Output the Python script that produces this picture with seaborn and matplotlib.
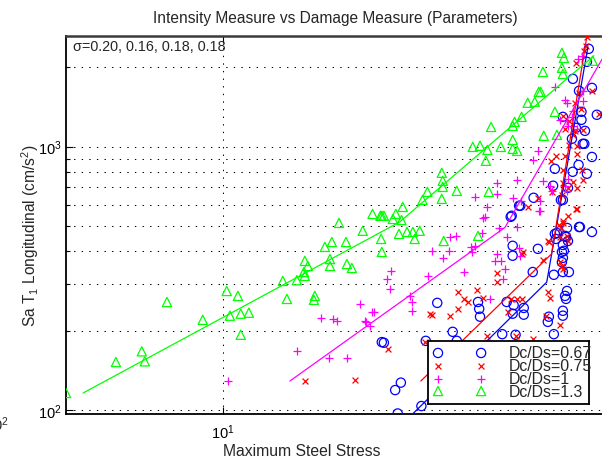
import numpy as np
import pandas as pd
import matplotlib
matplotlib.use("Agg")
import matplotlib.pyplot as plt
import matplotlib.ticker as mticker
import seaborn as sns

# ---------------- data ----------------
labels = ["Dc/Ds=0.67", "Dc/Ds=0.75", "Dc/Ds=1", "Dc/Ds=1.3"]

blue_x = [25.0, 25.3, 27.9, 27.0, 27.4, 31.4, 34.4, 32.2, 37.6, 38.5, 43.5, 43.8, 44.0, 51.3, 53.4, 53.1,
          56.6, 56.6, 50.0, 54.0, 52.8, 53.1, 53.1, 61.4, 59.6, 67.3, 55.5, 65.0, 65.4, 67.3, 70.9, 70.9,
          72.2, 72.6, 71.8, 70.9, 73.4, 70.5, 70.5, 71.3, 68.5, 71.8, 73.0, 70.1, 78.2, 83.8, 79.5, 83.8,
          67.7, 75.0, 77.6, 81.4, 67.0, 73.0, 70.9, 59.9, 55.1, 52.5, 67.7, 72.6, 77.8, 72.2, 68.1, 70.9,
          70.9, 82.3, 81.4, 75.1, 77.8, 83.8, 86.2, 78.9, 78.9, 80.5, 70.9, 76.4, 74.7, 80.2]
blue_y = [181, 180, 127, 119, 97, 103.5, 255, 183, 198, 183, 257, 242, 226, 257, 250, 232,
          244, 230, 194, 193, 546, 420, 385, 409, 334, 326, 596, 216, 226, 194, 238, 228,
          264, 283, 271, 334, 334, 364, 398, 402, 470, 458, 438, 627, 495, 474, 1024, 913,
          823, 802, 852, 788, 710, 697, 627, 639, 596, 541, 466, 491, 495, 454, 446, 423,
          378, 2349, 2097, 1807, 1628, 1670, 1320, 1355, 1263, 1147, 1296, 1177, 1070, 1024]

red_x = [25.9, 16.1, 21.4, 32.0, 33.0, 33.4, 37.0, 38.7, 38.7, 40.1, 41.0, 43.2, 44.8, 45.8, 48.5, 48.5,
         51.6, 52.5, 54.3, 55.9, 55.9, 57.9, 56.2, 63.2, 64.3, 65.0, 65.8, 69.7, 65.4, 69.7, 70.5, 70.9,
         69.3, 70.9, 72.6, 76.8, 73.0, 54.0, 59.6, 68.1, 70.9, 76.8, 76.8, 79.5, 75.1, 66.6, 70.5, 61.4,
         76.4, 70.1, 69.7, 65.0, 73.0, 73.4, 81.4, 80.2, 81.0, 76.4, 83.8, 77.6, 76.0, 78.9, 87.2, 70.9,
         73.4, 71.8, 76.0, 75.1, 79.5, 76.8, 71.8, 79.1, 66.2, 70.9, 73.0, 70.9]
red_y = [171, 129, 130, 181, 232, 230, 228, 242, 280, 264, 257, 285, 266, 191, 331, 306,
         236, 264, 264, 264, 391, 590, 398, 371, 228, 280, 266, 211, 434, 364, 352, 343,
         504, 520, 458, 580, 546, 191, 186, 922, 816, 938, 697, 747, 734, 673, 656, 639,
         580, 491, 454, 438, 438, 1015, 2600, 2309, 2414, 2080, 1628, 1600, 1466, 1391, 1331, 1309,
         1252, 1167, 1147, 1108, 1157, 1007, 922, 816, 883, 728, 697, 513]

magenta_x = [10.3, 15.33, 18.4, 20.45, 17.6, 18.9, 19.3, 22.0, 22.7, 22.8, 23.3, 23.6, 23.9, 25.7, 26.4,
             26.2, 29.4, 29.7, 29.7, 32.6, 33.4, 35.5, 36.8, 40.1, 41.8, 45.3, 49.1, 54.3, 46.6, 48.0,
             49.6, 50.8, 50.3, 48.6, 55.0, 55.3, 62.1, 55.6, 61.4, 59.6, 54.5, 48.6, 48.6, 42.7, 53.1,
             45.9, 61.7, 44.7, 44.5, 37.0, 38.3, 51.3, 42.7, 42.0, 63.2, 65.8, 71.8, 72.6, 66.6, 62.1,
             73.0, 67.7, 71.8, 72.6, 79.5, 79.1, 77.3, 75.1, 74.7, 72.6, 73.0, 75.1, 76.8, 69.7, 79.5]
magenta_y = [129, 167, 158, 158, 224, 222, 218, 253, 218, 216, 209, 236, 236, 314, 337,
             288, 271, 257, 238, 323, 402, 378, 402, 334, 416, 541, 491, 495, 264, 367,
             367, 343, 314, 391, 412, 385, 570, 622, 963, 890, 747, 728, 661, 644, 639,
             590, 570, 536, 470, 454, 458, 454, 420, 398, 741, 710, 710, 679, 679, 622,
             754, 1684, 1504, 1466, 1628, 2210, 2153, 1367, 1296, 1252, 1199, 1199, 1167, 1263, 1492]

green_x = [4.06, 5.41, 6.28, 6.39, 7.26, 8.92, 10.24, 10.43, 10.92, 11.1, 11.63, 11.1, 14.14, 14.48, 15.33,
           16.05, 16.33, 15.97, 16.05, 16.91, 17.0, 18.02, 18.55, 18.75, 18.55, 19.54, 20.34, 20.45, 21.04,
           22.4, 23.7, 24.8, 25.0, 25.3, 26.65, 27.1, 24.9, 25.0, 27.6, 28.2, 28.0, 28.9, 29.9, 31.1, 30.2,
           31.6, 32.5, 35.3, 35.5, 35.5, 35.3, 38.5, 35.7, 43.5, 45.5, 45.9, 42.2, 44.0, 46.3, 49.6, 53.1,
           53.1, 54.5, 46.9, 53.1, 53.7, 55.9, 63.5, 68.5, 67.7, 57.9, 60.3, 61.7, 62.4, 63.2, 70.9, 70.5,
           70.5, 71.3, 84.2]
green_y = [116, 152, 167, 153, 257, 220, 283, 228, 271, 232, 234, 193, 309, 264, 311,
           368, 352, 334, 323, 262, 271, 416, 374, 434, 352, 513, 434, 358, 346,
           479, 555, 546, 546, 546, 531, 555, 446, 398, 466, 590, 526, 474, 474, 479, 446,
           627, 673, 633, 703, 741, 795, 679, 438, 458, 883, 971, 997, 1007, 673, 997, 1060,
           980, 963, 1187, 1199, 1241, 1296, 1098, 1108, 1355, 1466, 1480, 1613, 1613, 1921, 1887, 1990,
           2269, 2170, 2117]

# bilinear fit lines (break points)
blue_fit_x = [29.0, 64.6, 81.9]
blue_fit_y = [92.5, 305.6, 2391]
red_fit_x = [31.3, 66.4, 81.5]
red_fit_y = [128.8, 391, 2655]
magenta_fit_x = [14.73, 50.8, 95.7]
magenta_fit_y = [128.8, 493, 2610]
green_fit_x = [4.48, 27.7, 84.7]
green_fit_y = [116, 517, 2211]

sigma_text = "\u03c3=0.20, 0.16, 0.18, 0.18"

# ---------------- style ----------------
sns.set_style("white")
plt.rcParams["font.family"] = ["Liberation Sans", "DejaVu Sans"]
plt.rcParams["mathtext.fontset"] = "custom"
plt.rcParams["mathtext.rm"] = "Liberation Sans"
plt.rcParams["mathtext.it"] = "Liberation Sans:italic"
plt.rcParams["mathtext.bf"] = "Liberation Sans:bold"
plt.rcParams["mathtext.default"] = "regular"

W, H = 602, 460
fig = plt.figure(figsize=(W / 100, H / 100), dpi=100)
fig.patch.set_facecolor("white")
ax = fig.add_axes([66 / W, (H - 414.7) / H, 549 / W, 377.4 / H])
ax.set_xscale("log")
ax.set_yscale("log")

colors = {"blue": (0, 0, 1), "red": (1, 0, 0), "magenta": (1, 0, 1), "green": (0, 1, 0)}

series = [
    (blue_x, blue_y, blue_fit_x, blue_fit_y, colors["blue"], "o", 44, True),
    (red_x, red_y, red_fit_x, red_fit_y, colors["red"], "x", 18, False),
    (magenta_x, magenta_y, magenta_fit_x, magenta_fit_y, colors["magenta"], "+", 34, False),
    (green_x, green_y, green_fit_x, green_fit_y, colors["green"], "^", 44, True),
]

for xs, ys, fx, fy, c, m, s, hollow in series:
    df = pd.DataFrame({"x": xs, "y": ys})
    kw = dict(facecolor="none", edgecolor=c) if hollow else {}
    sns.scatterplot(data=df, x="x", y="y", ax=ax, marker=m, s=s, color=c,
                    linewidth=0.9, legend=False, zorder=3, clip_on=True, **kw)

for xs, ys, fx, fy, c, m, s, hollow in series:
    dff = pd.DataFrame({"x": fx, "y": fy})
    sns.lineplot(data=dff, x="x", y="y", ax=ax, color=c, linewidth=0.9,
                 sort=False, estimator=None, legend=False, zorder=4)

ax.set_xlim(4.06, 95.7)
ax.set_ylim(96.8, 2621)

ax.xaxis.set_major_locator(mticker.FixedLocator([10]))
ax.xaxis.set_minor_locator(mticker.NullLocator())
ax.xaxis.set_major_formatter(mticker.LogFormatterSciNotation())
ax.yaxis.set_major_locator(mticker.LogLocator(base=10))
ax.yaxis.set_minor_locator(mticker.LogLocator(base=10, subs=range(2, 10)))
ax.yaxis.set_minor_formatter(mticker.NullFormatter())
ax.yaxis.set_major_formatter(mticker.LogFormatterSciNotation())

dot = (0, (1.3, 6))
ax.grid(True, which="both", axis="y", color="k", linestyle=dot, linewidth=0.75)
ax.grid(True, which="major", axis="x", color="k", linestyle=dot, linewidth=0.75)
ax.set_axisbelow(True)

ax.tick_params(which="both", direction="in", top=True, right=True, bottom=True, left=True,
               colors="k", labelsize=10.5, width=0.8)
ax.tick_params(which="major", length=5)
ax.tick_params(which="minor", length=3)
ax.tick_params(axis="x", pad=6)
ax.tick_params(axis="y", pad=3)

for side in ["left", "bottom"]:
    ax.spines[side].set_color("k")
    ax.spines[side].set_linewidth(1.3)
ax.spines["top"].set_color("#3a3a3a")
ax.spines["top"].set_linewidth(1.8)
ax.spines["right"].set_visible(False)

ax.set_xlabel("Maximum Steel Stress", fontsize=11.3)
ax.set_ylabel("Sa T$_1$ Longitudinal (cm/s$^2$)", fontsize=11.2)
ax.xaxis.set_label_coords((302 - 66) / 549, (414.7 - 452) / 377.4)
ax.yaxis.set_label_coords((30 - 66) / 549, (414.7 - 236) / 377.4)
ax.xaxis.label.set_va("center")
ax.yaxis.label.set_va("center")

fig.text(335 / W, 1 - 18 / H, "Intensity Measure vs Damage Measure (Parameters)",
         ha="center", va="center", fontsize=11.2)
fig.text(73 / W, 1 - 47 / H, sigma_text, ha="left", va="center", fontsize=10.4)
fig.text(9 / W, 1 - 425 / H, "10$^2$", ha="right", va="center", fontsize=10.5)

# ---------------- legend box ----------------
lax = fig.add_axes([428 / W, (H - 405) / H, 161 / W, 63 / H], zorder=10)
lax.set_xlim(0, 1)
lax.set_ylim(0, 1)
lax.set_xticks([])
lax.set_yticks([])
lax.set_facecolor("white")
for sp in lax.spines.values():
    sp.set_visible(True)
    sp.set_color("k")
    sp.set_linewidth(1.3)
rows = [0.81, 0.608, 0.397, 0.206]
for (xs, ys, fx, fy, c, m, s, hollow), yr, lab in zip(series, rows, labels):
    kw = dict(facecolors="none", edgecolors=c) if hollow else dict(color=c)
    lax.scatter([0.062, 0.33], [yr, yr], marker=m, s=s, linewidths=0.9, **kw)
    lax.text(0.503, yr, lab, ha="left", va="center", fontsize=11.4, clip_on=False)

fig.savefig("out.png", dpi=100, facecolor="white")
